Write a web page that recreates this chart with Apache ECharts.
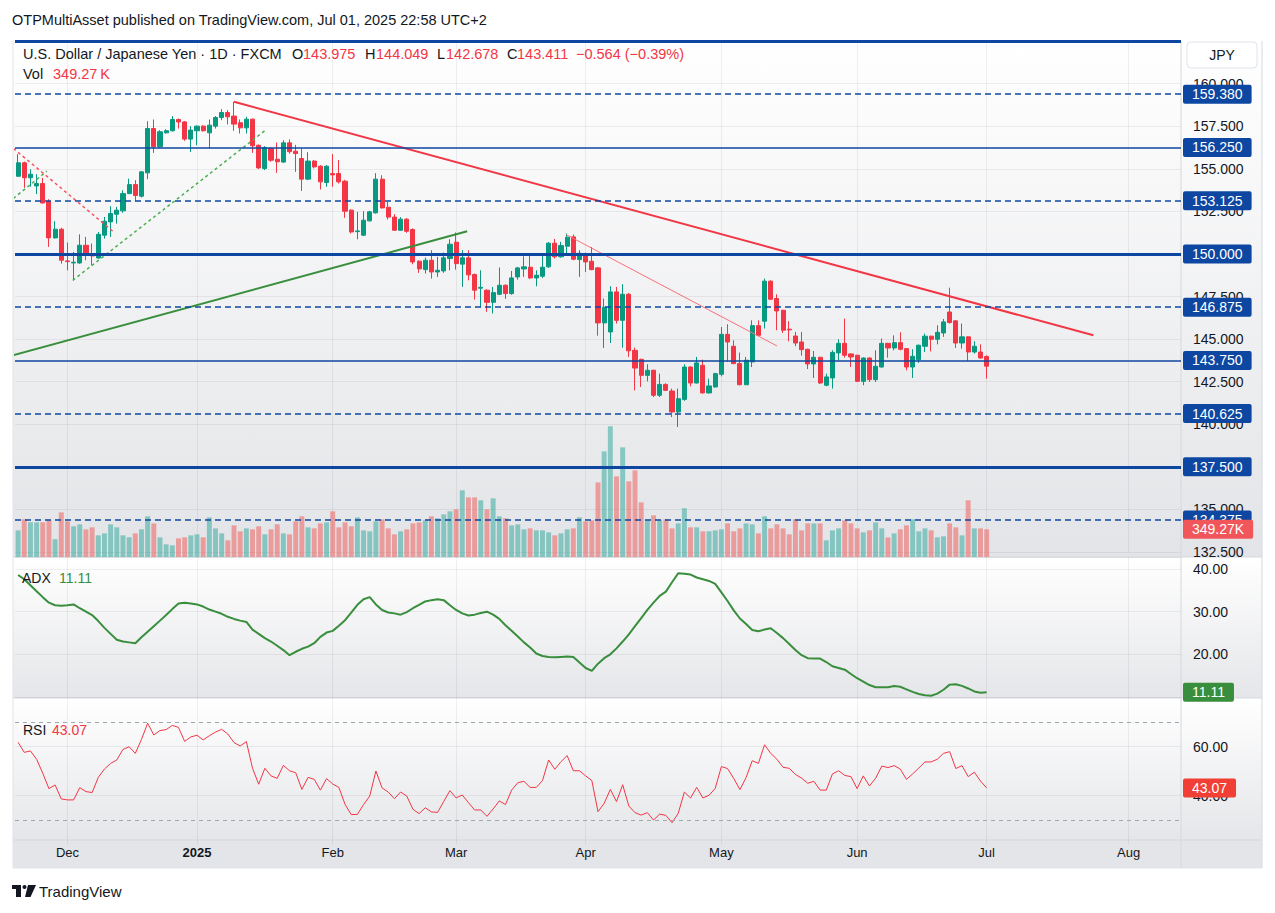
<!DOCTYPE html>
<html>
<head>
<meta charset="utf-8">
<title>USDJPY 1D</title>
<script src="https://cdn.jsdelivr.net/npm/echarts@6/dist/echarts.min.js"></script>
<style>
html, body { margin: 0; padding: 0; background: #fff; }
#chart { width: 1275px; height: 913px; }
</style>
</head>
<body>
<div id="chart"></div>
<script>
// daily bars from 2024-11-20, FX weekdays (no bar on these two days)
var startDate = '2024-11-20';
var closedDays = ['2024-12-25', '2025-01-01'];
var slotCount = 189;
var monthNames = ['Jan', 'Feb', 'Mar', 'Apr', 'May', 'Jun', 'Jul', 'Aug', 'Sep', 'Oct', 'Nov', 'Dec'];

var opens = [
  154.56,155.35,154.47,153.99,154.13,153.09,150.94,151.45,149.59,149.47,
  149.47,150.51,150.02,149.76,151.10,151.88,152.33,152.53,153.54,154.07,
  153.39,154.76,157.36,156.29,157.11,157.23,157.89,157.75,156.74,157.23,
  157.50,157.11,157.50,158.01,158.30,158.09,157.70,157.40,157.91,156.38,
  155.01,156.19,155.56,155.39,156.52,156.03,155.60,154.39,155.45,155.15,
  154.19,154.72,154.72,154.27,152.57,151.31,151.10,151.94,152.41,154.39,
  152.74,152.16,151.39,152.04,151.43,149.57,149.08,149.63,148.94,149.00,
  149.73,150.69,149.40,149.77,148.79,147.99,147.87,147.16,147.63,148.16,
  147.67,148.65,149.12,149.22,148.59,148.69,149.24,150.63,149.83,150.45,
  151.00,149.67,150.02,149.57,149.18,145.95,145.42,147.77,146.10,147.63,
  144.34,143.81,142.87,143.17,141.70,142.34,141.95,140.72,141.46,143.36,
  142.42,143.46,141.84,142.19,142.93,145.28,144.58,143.56,142.32,143.66,
  145.79,146.05,148.40,147.38,146.69,145.58,145.18,144.83,144.40,143.54,
  143.93,142.29,142.72,144.19,144.75,144.13,144.05,142.52,143.89,142.62,
  143.36,144.75,144.48,144.79,144.44,143.36,143.79,144.58,145.17,144.99,
  145.36,146.59,146.07,144.77,145.13,144.24,144.24,143.975
];
var highs = [
  155.86,155.42,154.97,154.68,154.46,153.21,151.92,151.53,150.67,150.12,
  151.15,151.00,150.61,151.29,152.17,152.80,152.76,153.74,154.42,154.33,
  154.86,157.79,157.89,157.27,157.32,158.09,157.95,157.80,157.50,157.55,
  157.56,157.89,158.09,158.50,158.44,158.93,157.89,158.05,157.95,156.42,
  156.33,156.25,156.54,156.68,156.72,156.40,156.19,155.97,155.51,155.21,
  155.21,155.86,155.51,154.35,152.62,152.47,152.51,152.53,154.74,154.62,
  153.06,152.33,152.16,152.10,151.50,149.62,149.79,150.22,149.83,150.08,
  150.86,151.26,150.22,150.22,148.85,149.04,147.92,148.06,149.20,148.22,
  149.00,149.24,149.86,150.02,149.04,149.92,150.70,150.88,150.71,151.20,
  151.14,150.22,150.08,150.41,149.24,147.38,148.10,148.06,148.22,147.70,
  144.50,143.85,143.52,143.20,142.97,142.40,142.09,142.09,143.52,143.40,
  143.95,143.79,142.68,143.02,145.71,145.87,144.93,144.21,143.95,146.10,
  146.10,148.55,148.45,147.63,146.72,146.05,145.42,145.42,144.44,144.30,
  143.96,142.97,144.34,144.99,146.20,144.16,144.08,143.92,143.92,144.34,
  145.03,144.78,145.22,145.40,144.47,144.40,144.67,145.32,145.20,145.81,
  146.18,148.02,146.10,145.91,145.16,144.87,144.69,144.049
];
var lows = [
  154.52,153.88,153.94,153.51,152.96,150.41,150.90,149.43,149.04,148.45,
  149.42,149.63,149.33,149.72,150.90,151.00,151.78,152.41,153.51,153.09,
  153.31,154.39,155.93,156.24,157.07,157.18,157.36,156.64,155.99,156.38,
  157.18,156.19,157.36,157.85,157.60,157.23,157.07,157.07,155.93,154.98,
  154.92,155.41,154.76,155.35,155.89,154.82,153.70,154.33,155.02,153.78,
  153.94,153.94,154.13,152.12,151.20,150.86,151.05,151.90,152.37,152.67,
  152.02,151.35,151.35,151.24,149.39,148.89,148.85,148.55,148.65,148.89,
  149.04,149.08,148.06,148.45,147.32,146.89,146.60,146.50,147.58,147.36,
  147.60,148.49,148.65,148.52,148.10,148.59,149.18,149.73,149.78,149.92,
  149.63,148.65,148.94,149.04,145.20,144.48,144.77,145.91,144.50,143.95,
  141.99,142.19,142.52,141.60,141.60,141.95,140.42,139.84,141.37,142.23,
  142.40,141.80,141.80,142.15,142.81,143.66,143.52,142.28,142.30,143.36,
  145.17,145.62,147.30,145.52,145.36,144.87,144.58,144.03,143.24,142.72,
  142.36,142.23,142.09,143.75,143.91,143.36,142.48,142.29,142.48,142.48,
  143.33,143.91,144.34,144.34,143.17,142.72,143.60,144.24,144.28,144.69,
  145.13,145.91,144.48,144.44,143.71,144.15,143.85,142.678
];
var closes = [
  155.35,154.47,154.68,154.13,152.99,150.94,151.45,149.63,149.55,149.51,
  150.51,149.98,149.88,151.15,151.92,152.37,152.57,153.54,154.07,153.43,
  154.82,157.36,156.29,157.17,157.23,157.89,157.75,156.74,157.27,157.50,
  157.23,157.56,158.01,158.30,158.05,157.62,157.40,157.91,156.35,155.05,
  156.25,155.50,155.41,156.52,156.00,155.89,154.39,155.45,155.11,154.23,
  155.15,154.64,154.23,152.51,151.29,151.35,151.98,152.47,154.39,152.70,
  152.16,151.39,152.04,151.33,149.53,149.12,149.63,148.94,149.04,149.77,
  150.57,149.43,149.77,148.77,147.87,148.04,147.16,147.73,148.16,147.67,
  148.59,149.18,149.24,148.59,148.75,149.22,150.63,149.83,150.49,150.98,
  149.69,150.04,149.53,149.08,145.95,146.87,147.77,146.10,147.63,144.31,
  143.30,142.87,143.17,141.70,142.34,141.99,140.72,141.50,143.36,142.42,
  143.60,141.84,142.25,142.97,145.28,144.83,143.56,142.32,143.76,145.79,
  145.22,148.40,147.34,146.65,145.52,145.54,144.77,144.38,143.54,143.93,
  142.42,142.78,144.22,144.75,144.05,143.95,142.52,143.89,142.62,143.40,
  144.75,144.48,144.79,144.40,143.36,143.99,144.64,145.17,144.99,145.40,
  146.01,145.97,144.77,145.13,144.24,144.58,143.89,143.411
];
// volume in thousands
var volumes = [
  336,475,437,437,437,462,223,563,450,387,
  412,349,374,273,298,412,374,273,248,298,
  349,513,424,248,160,147,235,248,273,286,
  248,500,361,298,210,399,324,361,349,387,
  286,349,412,298,286,450,513,374,361,424,
  437,576,374,437,387,500,336,324,450,475,
  361,286,324,349,424,437,462,513,488,538,
  576,601,841,752,752,715,601,740,513,488,
  399,412,349,361,336,336,311,273,298,349,
  361,500,450,462,941,1332,1648,1017,1383,954,
  1093,689,462,525,462,475,361,424,614,374,
  374,324,324,336,349,424,324,361,424,412,
  298,513,361,412,361,286,475,336,424,424,
  424,210,336,361,462,424,361,311,336,437,
  361,248,298,349,399,475,324,361,336,248,
  261,424,374,273,715,361,361,349.27
];
var adxValues = [
  38.6,37.6,36.2,34.8,33.4,32.1,31.5,31.4,31.5,31.7,
  30.8,30.0,29.2,27.8,26.2,24.8,23.4,23.0,22.8,22.6,
  24.0,25.3,26.6,27.9,29.2,30.6,31.9,32.1,31.9,31.7,
  31.2,30.5,30.0,29.5,28.8,28.3,27.9,27.6,25.8,24.8,
  23.8,23.0,22.0,21.0,19.8,20.6,21.3,21.8,22.6,24.1,
  25.1,25.5,26.7,28.0,29.8,31.6,32.9,33.4,31.7,30.4,
  29.8,29.6,29.3,29.9,30.8,31.6,32.4,32.7,32.9,32.7,
  31.5,30.4,29.6,29.1,29.3,29.7,30.0,29.3,28.3,26.8,
  25.5,24.2,22.8,21.6,20.2,19.6,19.4,19.3,19.4,19.5,
  19.4,18.1,16.8,16.1,17.8,19.1,20.0,21.4,23.0,24.7,
  26.6,28.5,30.4,32.1,33.7,34.7,36.9,39.0,38.9,38.7,
  38.0,37.6,37.2,36.5,34.5,32.5,30.3,28.4,27.1,25.7,
  25.4,25.8,26.1,25.0,23.8,22.4,21.0,19.8,19.1,19.0,
  19.0,18.2,17.2,16.8,16.4,15.4,14.4,13.6,12.8,12.3,
  12.3,12.3,12.6,12.4,11.8,11.2,10.7,10.4,10.3,10.8,
  11.7,12.9,13.0,12.6,12.0,11.3,11.0,11.11
];
var rsiValues = [
  61.7,57.6,58.2,54.8,49.1,42.8,44.3,38.6,38.2,38.2,
  43.2,41.6,41.2,47.4,50.8,53.1,54.5,58.8,59.9,57.2,
  62.9,69.5,64.7,66.5,66.9,68.6,67.8,62.1,63.9,64.6,
  62.7,64.4,65.9,67.0,65.1,61.6,60.2,62.0,51.1,44.6,
  51.1,48.0,47.0,52.3,50.1,49.3,42.5,47.4,46.6,42.2,
  46.9,44.7,43.3,36.4,32.2,32.3,36.3,39.8,50.0,43.1,
  41.4,38.7,41.4,39.8,34.4,32.6,35.0,33.3,33.1,37.6,
  42.0,39.0,40.2,37.1,34.1,34.1,31.5,34.5,37.8,36.3,
  42.2,45.2,45.8,43.3,43.3,46.1,54.5,50.7,53.8,56.3,
  50.1,50.1,48.0,46.1,33.4,36.8,42.5,37.5,44.4,35.7,
  33.0,32.0,33.0,30.0,32.4,31.9,28.9,32.7,41.4,39.0,
  43.3,39.0,40.1,42.9,51.8,51.0,47.0,42.4,47.3,54.2,
  53.1,60.7,57.2,54.8,51.5,51.1,48.6,47.1,45.0,45.8,
  42.2,42.2,48.8,50.1,48.2,47.7,42.8,48.0,43.9,47.0,
  52.0,51.4,52.2,50.8,46.6,48.8,51.2,53.7,53.7,54.8,
  57.2,57.9,51.0,52.2,47.7,49.5,45.9,43.07
];
var levelPrices = [162.5, 159.38, 156.25, 153.125, 150, 146.875, 143.75, 140.625, 137.5, 134.375];
var rsiBands = [70, 30];
var rsiGrid = [60, 40];
// drawn trend lines: [bar index, price]
var trendStarts = [[35, 158.93], [88.8, 151.14], [-0.8, 144.05], [-0.75, 156.19], [-0.75, 153.26], [8.87, 148.45]];
var trendEnds = [[174.3, 145.22], [123.0, 144.6], [72.8, 151.33], [15.7, 151.23], [4.66, 154.86], [40.26, 157.31]];

var FONT = '"Liberation Sans", Arial, sans-serif';
var TEXT = '#131722';
var UP = '#089981', DOWN = '#f23645';
var LEVEL = '#0d47a1';
var GRID = 'rgba(42,46,57,0.07)';

var dates = [];
var day = new Date(startDate + 'T00:00:00Z');
while (dates.length < slotCount) {
  var wd = day.getUTCDay();
  var s = day.toISOString().slice(0, 10);
  if (wd !== 0 && wd !== 6 && closedDays.indexOf(s) < 0) dates.push(s);
  day.setUTCDate(day.getUTCDate() + 1);
}
function monthStart(i) {
  return i > 0 && dates[i].slice(0, 7) !== dates[i - 1].slice(0, 7);
}

var candles = [], volumeBars = [];
for (var i = 0; i < opens.length; i++) {
  candles.push([opens[i], closes[i], lows[i], highs[i]]);
  volumeBars.push({
    value: volumes[i],
    itemStyle: { color: closes[i] >= opens[i] ? 'rgba(38,166,154,0.5)' : 'rgba(239,83,80,0.5)' }
  });
}

var levelData = levelPrices.map(function (p) {
  var thick = Math.abs((p - 137.5) % 12.5) < 1e-6;
  var solid = Math.abs((p - 143.75) % 12.5) < 1e-6;
  return {
    yAxis: p,
    lineStyle: { color: LEVEL, width: thick ? 3 : 1.5, type: (thick || solid) ? 'solid' : [6, 4] },
    label: { show: p < 162 }
  };
});

function tag(color) {
  return {
    show: true, position: 'end', distance: 2, color: '#fff', backgroundColor: color,
    fontFamily: FONT, fontSize: 14, padding: [3, 9, 2, 9], borderRadius: 2
  };
}

function categoryAxis(gridIndex, showLabels, showSplit) {
  return {
    type: 'category', gridIndex: gridIndex, data: dates, boundaryGap: true,
    axisLine: { show: false }, axisTick: { show: false },
    axisLabel: {
      show: showLabels, margin: 1, color: TEXT, fontFamily: FONT, fontSize: 13,
      interval: function (i) { return monthStart(i); },
      formatter: function (v) {
        var m = +v.slice(5, 7);
        return m === 1 ? '{y|' + v.slice(0, 4) + '}' : monthNames[m - 1];
      },
      rich: { y: { fontWeight: 'bold', color: TEXT, fontFamily: FONT, fontSize: 13 } }
    },
    splitLine: {
      show: showSplit, alignWithLabel: true,
      interval: function (i) { return monthStart(i); },
      lineStyle: { color: GRID }
    }
  };
}

function grad(top, bottom) {
  return new echarts.graphic.LinearGradient(0, 0, 0, 1, [{ offset: 0, color: top }, { offset: 1, color: bottom }]);
}
function txt(x, y, text, color, size, weight) {
  return { type: 'text', z: 100, silent: true, x: x, y: y,
    style: { text: text, fill: color, font: (weight || 'normal') + ' ' + size + 'px ' + FONT, verticalAlign: 'middle' } };
}
function hline(y, color) {
  return { type: 'line', z: -5, silent: true, shape: { x1: 13, y1: y, x2: 1262, y2: y }, style: { stroke: color, lineWidth: 1 } };
}
function vline(x, color) {
  return { type: 'line', z: -5, silent: true, shape: { x1: x, y1: 41, x2: x, y2: 868 }, style: { stroke: color, lineWidth: 1 } };
}

var trendSeries = trendStarts.map(function (a, k) {
  var styles = [
    { color: '#f23645', width: 2, type: 'solid' },
    { color: '#f7707a', width: 1, type: 'solid' },
    { color: '#388e3c', width: 2, type: 'solid' },
    { color: '#f7525f', width: 1.5, type: [3, 3] },
    { color: '#4caf50', width: 1.5, type: [3, 3] },
    { color: '#4caf50', width: 1.5, type: [3, 3] }
  ];
  return {
    type: 'line', xAxisIndex: 1, yAxisIndex: 0, z: 4, silent: true, clip: true,
    showSymbol: false, symbol: 'none', animation: false,
    data: [a, trendEnds[k]], lineStyle: styles[k]
  };
});

var axisText = { color: TEXT, fontFamily: FONT, fontSize: 14, margin: 12 };

var chart = echarts.init(document.getElementById('chart'), null, { renderer: 'svg' });
chart.setOption({
  animation: false,
  backgroundColor: '#ffffff',
  textStyle: { fontFamily: FONT },
  grid: [
    { left: 15, width: 1166, top: 41, height: 511, containLabel: false, outerBoundsMode: 'none' },
    { left: 15, width: 1166, top: 420, height: 137, containLabel: false, outerBoundsMode: 'none' },
    { left: 15, width: 1166, top: 557, height: 140, containLabel: false, outerBoundsMode: 'none' },
    { left: 15, width: 1166, top: 697.5, height: 147, containLabel: false, outerBoundsMode: 'none' }
  ],
  xAxis: [
    categoryAxis(0, false, true),
    { type: 'value', gridIndex: 0, min: -0.5, max: slotCount - 0.5, show: false },
    categoryAxis(1, false, false),
    categoryAxis(2, false, true),
    categoryAxis(3, true, true)
  ],
  yAxis: [
    {
      type: 'value', gridIndex: 0, position: 'right', min: 132.5, max: 162.5, interval: 2.5,
      axisLine: { show: false }, axisTick: { show: false },
      axisLabel: Object.assign({}, axisText, {
        formatter: function (v) { return v > 162 ? '' : v.toFixed(3); } }),
      splitLine: { lineStyle: { color: GRID } }
    },
    { type: 'value', gridIndex: 1, min: 0, max: 1728, show: false },
    {
      type: 'value', gridIndex: 2, position: 'right', min: 10, max: 42.81, interval: 10,
      axisLine: { show: false }, axisTick: { show: false },
      axisLabel: Object.assign({}, axisText, {
        formatter: function (v) { return (v === 20 || v === 30 || v === 40) ? v.toFixed(2) : ''; } }),
      splitLine: { lineStyle: { color: GRID } }
    },
    {
      type: 'value', gridIndex: 3, position: 'right', min: 20, max: 80, interval: 20,
      axisLine: { show: false }, axisTick: { show: false },
      axisLabel: Object.assign({}, axisText, {
        formatter: function (v) { return (v === 40 || v === 60) ? v.toFixed(2) : ''; } }),
      splitLine: { show: false }
    }
  ],
  series: [
    {
      type: 'candlestick', xAxisIndex: 0, yAxisIndex: 0, z: 3, barWidth: '75%', clip: true,
      data: candles,
      itemStyle: { color: UP, color0: DOWN, borderColor: UP, borderColor0: DOWN, borderWidth: 1 },
      markLine: {
        silent: true, symbol: ['none', 'none'], animation: false, precision: 3,
        label: Object.assign(tag(LEVEL), { formatter: function (p) { return (+p.value).toFixed(3); } }),
        data: levelData
      }
    }
  ].concat(trendSeries, [
    {
      type: 'bar', xAxisIndex: 2, yAxisIndex: 1, z: 1, barWidth: '80%', data: volumeBars
    },
    {
      type: 'line', xAxisIndex: 2, yAxisIndex: 1, z: 6, data: [], silent: true,
      markLine: {
        silent: true, symbol: ['none', 'none'], animation: false, precision: 2,
        lineStyle: { color: 'transparent', width: 0 },
        label: Object.assign(tag('#f0565a'), { formatter: volumes[volumes.length - 1].toFixed(2) + 'K' }),
        data: [{ yAxis: volumes[volumes.length - 1] }]
      }
    },
    {
      type: 'line', xAxisIndex: 3, yAxisIndex: 2, z: 3, data: adxValues, showSymbol: false, symbol: 'none',
      lineStyle: { color: '#388e3c', width: 2 },
      markLine: {
        silent: true, symbol: ['none', 'none'], animation: false, precision: 2,
        lineStyle: { color: 'transparent', width: 0 },
        label: Object.assign(tag('#388e3c'), { formatter: adxValues[adxValues.length - 1].toFixed(2) }),
        data: [{ yAxis: adxValues[adxValues.length - 1] }]
      }
    },
    {
      type: 'line', xAxisIndex: 4, yAxisIndex: 3, z: 3, data: rsiValues, showSymbol: false, symbol: 'none',
      lineStyle: { color: '#f23645', width: 1 },
      markLine: {
        silent: true, symbol: ['none', 'none'], animation: false, precision: 2,
        label: { show: false },
        data: rsiGrid.map(function (v) { return { yAxis: v, lineStyle: { color: GRID, width: 1, type: 'solid' } }; })
          .concat(rsiBands.map(function (v) { return { yAxis: v, lineStyle: { color: '#a3a6af', width: 1, type: [4, 4] } }; }))
          .concat([{ yAxis: rsiValues[rsiValues.length - 1], lineStyle: { color: 'transparent', width: 0 },
            label: Object.assign(tag('#f23f35'), { formatter: rsiValues[rsiValues.length - 1].toFixed(2) }) }])
      }
    }
  ]),
  graphic: {
    elements: [
      { type: 'rect', z: -10, silent: true, shape: { x: 13, y: 41, width: 1249, height: 516 }, style: { fill: grad('#ffffff', '#e3e4e7') } },
      { type: 'rect', z: -10, silent: true, shape: { x: 13, y: 557, width: 1249, height: 141 }, style: { fill: grad('#ffffff', '#e5e6e9') } },
      { type: 'rect', z: -10, silent: true, shape: { x: 13, y: 698, width: 1249, height: 142 }, style: { fill: grad('#ffffff', '#e5e6e9') } },
      { type: 'rect', z: -10, silent: true, shape: { x: 13, y: 840, width: 1249, height: 28 }, style: { fill: '#e4e5e8' } },
      hline(557, '#d6d8de'), hline(698, '#d6d8de'), hline(840, '#d6d8de'), hline(868, '#e0e3eb'),
      vline(13, '#e0e3eb'), vline(1181, '#d6d8de'), vline(1262, '#d6d8de'),
      { type: 'rect', z: 100, silent: true, shape: { x: 1187, y: 42, width: 70, height: 26, r: 4 }, style: { fill: '#ffffff', stroke: '#e0e3eb', lineWidth: 1 } },
      { type: 'text', z: 101, silent: true, x: 1222, y: 55, style: { text: 'JPY', fill: TEXT, font: '14px ' + FONT, align: 'center', verticalAlign: 'middle' } },
      txt(12, 20, 'OTPMultiAsset published on TradingView.com, Jul 01, 2025 22:58 UTC+2', TEXT, 14.5),
      txt(23, 54, 'U.S. Dollar / Japanese Yen · 1D · FXCM', TEXT, 14.5),
      txt(292, 54, 'O', TEXT, 14.5), txt(303, 54, '143.975', DOWN, 14.5),
      txt(365, 54, 'H', TEXT, 14.5), txt(376, 54, '144.049', DOWN, 14.5),
      txt(437, 54, 'L', TEXT, 14.5), txt(446, 54, '142.678', DOWN, 14.5),
      txt(507, 54, 'C', TEXT, 14.5), txt(517, 54, '143.411', DOWN, 14.5),
      txt(576, 54, '\u22120.564 (\u22120.39%)', DOWN, 14.5),
      txt(23, 74, 'Vol', TEXT, 14.5), txt(53, 74, '349.27\u2009K', DOWN, 14.5),
      txt(22, 578, 'ADX', TEXT, 14), txt(59, 578, '11.11', '#388e3c', 14),
      txt(23, 730, 'RSI', TEXT, 14), txt(52, 730, '43.07', DOWN, 14),
      { type: 'rect', z: 100, silent: true, shape: { x: 12, y: 885, width: 9, height: 4 }, style: { fill: TEXT } },
      { type: 'rect', z: 100, silent: true, shape: { x: 16, y: 885, width: 5, height: 12 }, style: { fill: TEXT } },
      { type: 'circle', z: 100, silent: true, shape: { cx: 24.5, cy: 887, r: 2 }, style: { fill: TEXT } },
      { type: 'polygon', z: 100, silent: true, shape: { points: [[28, 885], [36, 885], [30.5, 897], [25, 897]] }, style: { fill: TEXT } },
      txt(39, 891, 'TradingView', TEXT, 15)
    ]
  }
});
</script>
</body>
</html>
